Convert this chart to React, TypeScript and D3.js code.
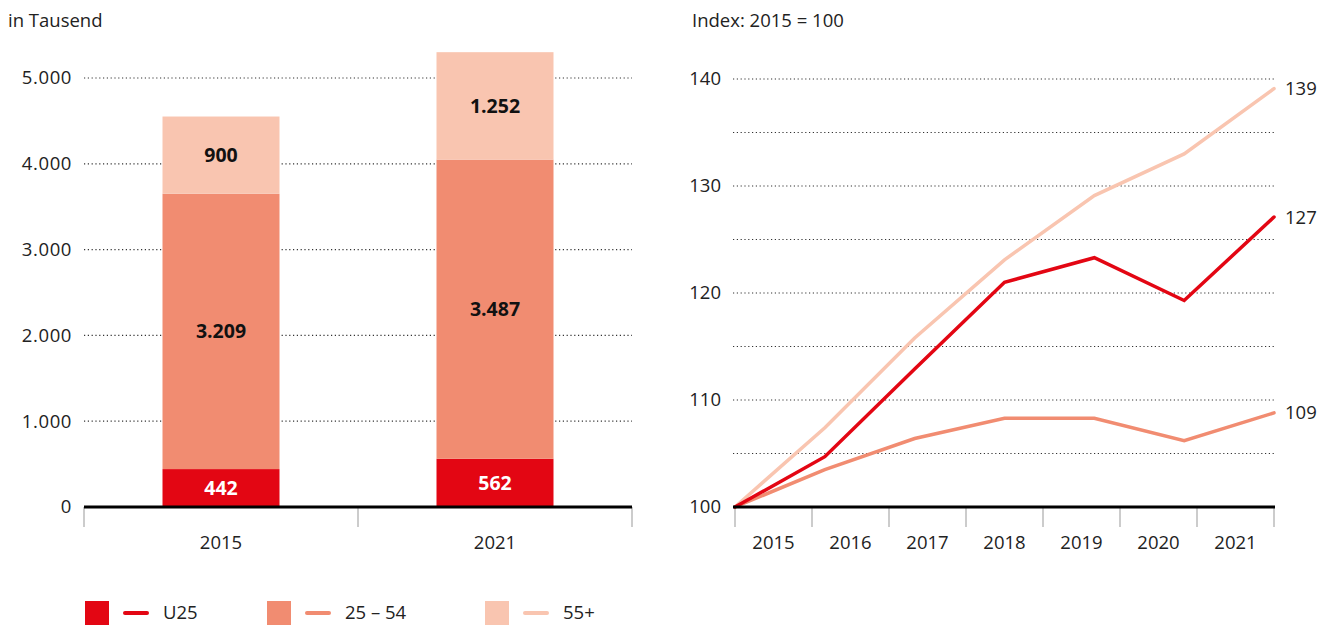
import React from "react";
import * as d3 from "d3";

const barYears = ["2015", "2021"];
const u25Abs = [442, 562];
const mid25Abs = [3209, 3487];
const over55Abs = [900, 1252];
const leftTicks = [0, 1000, 2000, 3000, 4000, 5000];

const lineYears = ["2015", "2016", "2017", "2018", "2019", "2020", "2021"];
const u25Index = [100, 104.7, 112.9, 121.0, 123.3, 119.3, 127.1];
const mid25Index = [100, 103.5, 106.4, 108.3, 108.3, 106.2, 108.8];
const over55Index = [100, 107.4, 115.8, 123.1, 129.1, 133.0, 139.1];
const rightTicks = [100, 105, 110, 115, 120, 125, 130, 135, 140];
const rightLabelTicks = [100, 110, 120, 130, 140];
const endLabels = ["127", "109", "139"];

const seriesNames = ["U25", "25 – 54", "55+"];
const colors = ["#e30613", "#f18c71", "#f9c5b0"];

const FONT = "'Open Sans', 'Noto Sans', sans-serif";
const FS = 18.5;
const fmt = (v: number) => d3.format(",")(v).replace(/,/g, ".");

export default function App() {
  // Left chart
  const yL = d3.scaleLinear().domain([0, 5000]).range([507, 78]);
  const xL = d3
    .scaleBand<string>()
    .domain(barYears)
    .range([84, 632])
    .paddingInner(0.573)
    .paddingOuter(0.2865);
  const stackRows = barYears.map((y, i) => ({
    year: y,
    s0: u25Abs[i],
    s1: mid25Abs[i],
    s2: over55Abs[i],
  }));
  const stacked = d3.stack<any>().keys(["s0", "s1", "s2"])(stackRows);
  const bandEdges = [84, 358, 632];

  // Right chart
  const yR = d3.scaleLinear().domain([100, 140]).range([507, 79]);
  const xRpt = d3.scalePoint<string>().domain(lineYears).range([735, 1274]);
  const xRband = d3.scaleBand<string>().domain(lineYears).range([735, 1274]);
  const line = d3
    .line<number>()
    .x((_, i) => xRpt(lineYears[i]) as number)
    .y((d) => yR(d));
  const lineSeries = [u25Index, mid25Index, over55Index];
  const drawOrder = [2, 1, 0];

  const legendX = [85, 267, 485];

  return (
    <svg
      width={1335}
      height={628}
      style={{ position: "absolute", left: 0, top: 0, background: "#fff" }}
      fontFamily={FONT}
    >
      {/* Left chart title */}
      <text x={8} y={27} fontSize={FS} fill="#222">
        in Tausend
      </text>

      {/* left gridlines & labels */}
      {leftTicks.map((t) => (
        <g key={t}>
          {t > 0 && (
            <line
              x1={84}
              x2={632}
              y1={yL(t)}
              y2={yL(t)}
              stroke="#333"
              strokeWidth={1.2}
              strokeDasharray="1.2 2.6"
            />
          )}
          <text
            x={72}
            y={yL(t)}
            dy="0.35em"
            textAnchor="end"
            fontSize={FS}
            letterSpacing={0.6}
            fill="#222"
          >
            {fmt(t)}
          </text>
        </g>
      ))}

      {/* bars */}
      {stacked.map((layer, li) =>
        layer.map((seg, bi) => {
          const x = xL(barYears[bi]) as number;
          const y0 = yL(seg[0]);
          const y1 = yL(seg[1]);
          const val = seg[1] - seg[0];
          return (
            <g key={li + "-" + bi}>
              <rect
                x={x}
                y={y1}
                width={xL.bandwidth()}
                height={y0 - y1}
                fill={colors[li]}
              />
              <text
                x={x + xL.bandwidth() / 2}
                y={(y0 + y1) / 2}
                dy="0.36em"
                textAnchor="middle"
                fontSize={19.5}
                fontWeight={700}
                fill={li === 0 ? "#fff" : "#111"}
              >
                {fmt(val)}
              </text>
            </g>
          );
        })
      )}

      {/* left axis */}
      {bandEdges.map((e) => (
        <line key={e} x1={e} x2={e} y1={507} y2={527} stroke="#999" strokeWidth={1} />
      ))}
      <line x1={84} x2={632} y1={507} y2={507} stroke="#000" strokeWidth={3} />
      {barYears.map((y) => (
        <text
          key={y}
          x={(xL(y) as number) + xL.bandwidth() / 2}
          y={543}
          dy="0.35em"
          textAnchor="middle"
          fontSize={FS}
          fill="#222"
        >
          {y}
        </text>
      ))}

      {/* Right chart */}
      <text x={692} y={27} fontSize={FS} fill="#222">
        Index: 2015 = 100
      </text>
      {rightTicks.map((t) =>
        t > 100 ? (
          <line
            key={t}
            x1={733}
            x2={1275}
            y1={yR(t)}
            y2={yR(t)}
            stroke="#333"
            strokeWidth={1.2}
            strokeDasharray="1.2 2.6"
          />
        ) : null
      )}
      {rightLabelTicks.map((t) => (
        <text
          key={t}
          x={721}
          y={yR(t)}
          dy="0.35em"
          textAnchor="end"
          fontSize={FS}
          fill="#222"
        >
          {t}
        </text>
      ))}
      {lineYears.concat(["end"]).map((y, i) => {
        const x = i < lineYears.length ? (xRband(y) as number) : 1274;
        return (
          <line key={y} x1={x} x2={x} y1={507} y2={527} stroke="#999" strokeWidth={1} />
        );
      })}
      {lineYears.map((y) => (
        <text
          key={y}
          x={(xRband(y) as number) + xRband.bandwidth() / 2}
          y={543}
          dy="0.35em"
          textAnchor="middle"
          fontSize={FS}
          fill="#222"
        >
          {y}
        </text>
      ))}
      {drawOrder.map((si) => (
        <path
          key={si}
          d={line(lineSeries[si]) as string}
          fill="none"
          stroke={colors[si]}
          strokeWidth={3.5}
          strokeLinejoin="miter"
          strokeLinecap="round"
        />
      ))}
      <line x1={733} x2={1275} y1={507} y2={507} stroke="#000" strokeWidth={3} />
      {lineSeries.map((s, si) => (
        <text
          key={si}
          x={1285}
          y={yR(s[s.length - 1])}
          dy="0.35em"
          fontSize={FS}
          fill="#222"
        >
          {endLabels[si]}
        </text>
      ))}

      {/* Legend */}
      {seriesNames.map((n, i) => (
        <g key={n}>
          <rect x={legendX[i]} y={601} width={24} height={24} fill={colors[i]} />
          <line
            x1={legendX[i] + 40}
            x2={legendX[i] + 62}
            y1={613}
            y2={613}
            stroke={colors[i]}
            strokeWidth={4}
            strokeLinecap="round"
          />
          <text x={legendX[i] + 78} y={613} dy="0.35em" fontSize={FS} fill="#222">
            {n}
          </text>
        </g>
      ))}
    </svg>
  );
}
